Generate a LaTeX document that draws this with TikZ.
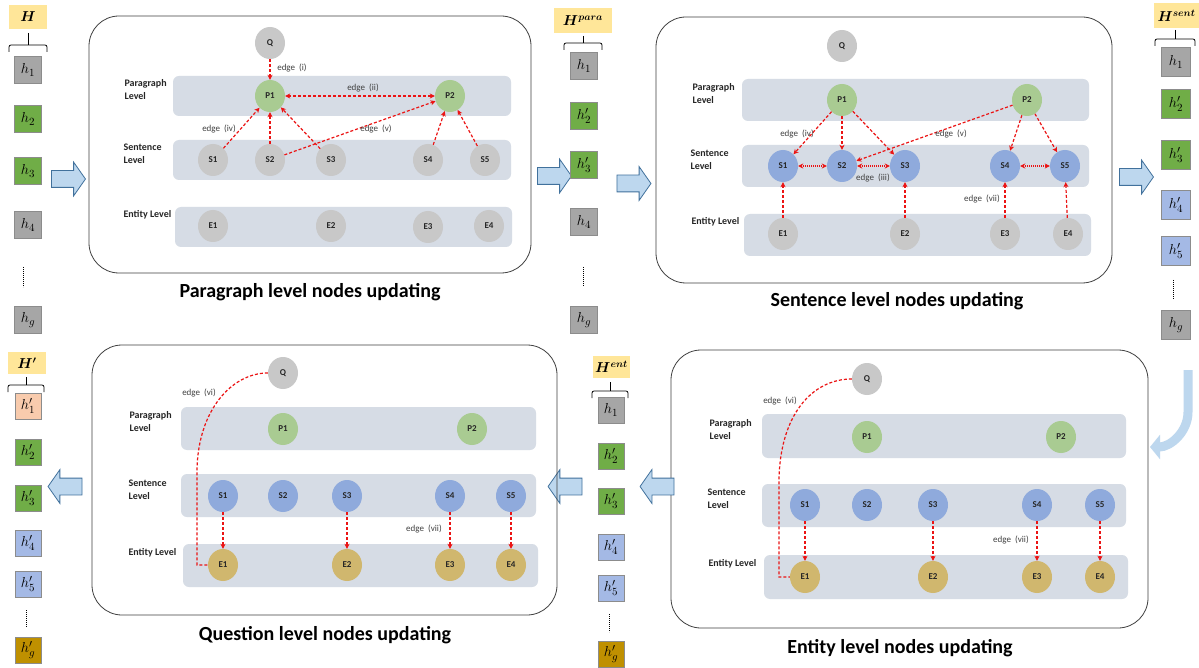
\documentclass[tikz,border=0pt]{standalone}
\usepackage[no-math]{fontspec}
\setmainfont{Carlito}
\usepackage{amsmath}
\usepackage{bm}
\usetikzlibrary{arrows.meta,shapes.geometric,shapes.arrows}

\definecolor{bandgray}{RGB}{214,220,229}
\definecolor{nodegray}{RGB}{200,200,200}
\definecolor{nodegreen}{RGB}{169,203,146}
\definecolor{nodeblue}{RGB}{143,170,220}
\definecolor{nodegold}{RGB}{208,183,110}
\definecolor{boxgray}{RGB}{166,166,166}
\definecolor{boxgreen}{RGB}{112,173,71}
\definecolor{boxblue}{RGB}{164,185,229}
\definecolor{boxpeach}{RGB}{248,203,173}
\definecolor{boxgold}{RGB}{191,144,0}
\definecolor{labelyellow}{RGB}{255,230,153}
\definecolor{arrowfill}{RGB}{189,215,238}
\definecolor{arrowline}{RGB}{65,113,156}
\definecolor{edgered}{RGB}{235,20,20}
\definecolor{textgray}{RGB}{64,64,64}

% brace under a column label: x1, x2, y of stem top, y of bar, y of hooks
\newcommand{\colbrace}[5]{%
  \draw[line width=0.8pt, rounded corners=2pt] (#1,#5) -- (#1,#4) -- (#2,#4) -- (#2,#5);
  \draw[line width=0.8pt] ({(#1+#2)/2},#3) -- ({(#1+#2)/2},#4);}

\begin{document}
\begin{tikzpicture}[x=1pt, y=-1pt,
    >={Stealth[length=5pt,width=5pt,inset=1.5pt]},
    gnode/.style={ellipse, minimum width=30pt, minimum height=32pt, inner sep=0pt,
      font=\fontsize{9}{9}\selectfont\bfseries, text=black!85},
    qnode/.style={gnode, fill=nodegray},
    pnode/.style={gnode, fill=nodegreen},
    snode/.style={gnode, fill=nodeblue},
    enode/.style={gnode, fill=nodegold},
    band/.style={fill=bandgray, rounded corners=6pt},
    panel/.style={draw=black!75, line width=0.8pt, rounded corners=30pt},
    level/.style={anchor=west, align=left, font=\fontsize{10}{13}\selectfont\bfseries, text=black!85},
    edgelab/.style={font=\fontsize{9}{9}\selectfont, text=textgray},
    redge/.style={draw=edgered, line width=1.2pt, dash pattern=on 3pt off 2pt, ->},
    rdot/.style={draw=edgered, line width=1.2pt, dash pattern=on 1pt off 1pt, <->},
    hbox/.style={draw=black!45, minimum width=27pt, minimum height=27pt, inner sep=0pt,
      font=\fontsize{15}{15}\selectfont},
    hlabel/.style={fill=labelyellow, inner sep=0pt, font=\fontsize{14}{14}\selectfont},
    vdots/.style={line width=1pt, dash pattern=on 0.8pt off 1.2pt},
    blockarrow/.style={single arrow, draw=arrowline, fill=arrowfill, line width=0.8pt,
      minimum height=34pt, minimum width=33pt, single arrow head extend=8.5pt,
      single arrow tip angle=110, inner xsep=0pt, inner ysep=8pt},
    title/.style={font=\fontsize{20}{20}\selectfont\bfseries}]

\fill[white] (0,0) rectangle (1199,668);
\useasboundingbox (0,0) rectangle (1199,668);

% ---------- column H ----------
\node[hlabel, minimum width=38pt, minimum height=24pt] (H) at (28,17) {$\bm{H}$};
\colbrace{9}{47}{33}{45}{52}
\foreach \y/\c/\t [count=\i] in {70/boxgray/h_1, 119/boxgreen/h_2, 171/boxgreen/h_3, 225/boxgray/h_4, 320/boxgray/h_g}
  \node[hbox, fill=\c] (H-\i) at (28,\y) {$\t$};
\draw[vdots] (23,267) -- (23,287);
\node[blockarrow] (arrA) at (65.5,179) {};

% ---------- paragraph level nodes updating ----------
\draw[panel] (89,16) rectangle (531,273);
\fill[band] (173,76) rectangle (511,116);
\fill[band] (173,140) rectangle (511,180);
\fill[band] (175,207) rectangle (512,247);
\node[level] at (121,90) {Paragraph\\Level};
\node[level] at (120,154) {Sentence\\Level};
\node[level] at (120,215) {Entity Level};
\node[qnode] (pQ) at (270,43) {Q};
\node[pnode] (pP1) at (270,96) {P1};
\node[pnode] (pP2) at (450,96) {P2};
\foreach \n/\x in {1/213,2/270,3/331,4/428,5/485}
  \node[gnode, fill=nodegray] (pS\n) at (\x,160) {S\n};
\foreach \n/\x/\y in {1/213/226,2/331/226,3/428/227,4/489/226}
  \node[gnode, fill=nodegray] (pE\n) at (\x,\y) {E\n};
\draw[redge] (pQ) -- (pP1);
\draw[redge, <->] (pP1) -- (pP2);
\draw[redge] (pS1) -- (pP1);
\draw[redge] (pS2) -- (pP1);
\draw[redge] (pS3) -- (pP1);
\draw[redge] (pS2) -- (pP2);
\draw[redge] (pS4) -- (pP2);
\draw[redge] (pS5) -- (pP2);
\node[edgelab] at (292,68) {edge~~(i)};
\node[edgelab] at (363,88) {edge~~(ii)};
\node[edgelab] at (219,129) {edge~~(iv)};
\node[edgelab] at (376,129) {edge~~(v)};
\node[title] at (310,292) {Paragraph level nodes updating};

\node[blockarrow] (arrB) at (551.5,176) {};

% ---------- column H^para ----------
\node[hlabel, minimum width=58pt, minimum height=25pt] (Hpara) at (583,20.5) {$\bm{H^{para}}$};
\colbrace{564}{602}{36}{43}{50}
\foreach \y/\c/\t [count=\i] in {66/boxgray/h_1, 116/boxgreen/h'_2, 165/boxgreen/h'_3, 222/boxgray/h_4, 320/boxgray/h_g}
  \node[hbox, fill=\c] (Hpara-\i) at (584,\y) {$\t$};
\draw[vdots] (583,267) -- (583,286);
\node[blockarrow] (arrC) at (631,183.5) {};

% ---------- sentence level nodes updating ----------
\draw[panel] (656,17) rectangle (1112,283);
\fill[band] (742,79) rectangle (1089,121);
\fill[band] (742,145) rectangle (1089,187);
\fill[band] (744,214) rectangle (1091,256);
\node[level] at (689,93.5) {Paragraph\\Level};
\node[level] at (687,159.5) {Sentence\\Level};
\node[level] at (688,222) {Entity Level};
\node[qnode] (sQ) at (842,46) {Q};
\node[pnode] (sP1) at (842,100) {P1};
\node[pnode] (sP2) at (1027,100) {P2};
\foreach \n/\x in {1/783,2/842,3/905,4/1005,5/1065}
  \node[snode] (sS\n) at (\x,166) {S\n};
\foreach \n/\x in {1/783,2/905,3/1005,4/1068}
  \node[gnode, fill=nodegray] (sE\n) at (\x,234) {E\n};
\draw[redge] (sP1) -- (sS1);
\draw[redge] (sP1) -- (sS2);
\draw[redge] (sP1) -- (sS3);
\draw[redge] (sP2) -- (sS2);
\draw[redge] (sP2) -- (sS4);
\draw[redge] (sP2) -- (sS5);
\draw[rdot] (sS1) -- (sS2);
\draw[rdot] (sS2) -- (sS3);
\draw[rdot] (sS4) -- (sS5);
\draw[redge] (sE1) -- (sS1);
\draw[redge] (sE2) -- (sS3);
\draw[redge] (sE3) -- (sS4);
\draw[redge] (sE4) -- (sS5);
\node[edgelab] at (797,134) {edge~~(iv)};
\node[edgelab] at (951,134) {edge~~(v)};
\node[edgelab] at (873,178) {edge~~(iii)};
\node[edgelab] at (982,199) {edge~~(vii)};
\node[title] at (897,301) {Sentence level nodes updating};

\node[blockarrow] (arrD) at (1133.5,177) {};

% ---------- column H^sent ----------
\node[hlabel, minimum width=45pt, minimum height=25pt] (Hsent) at (1176.5,15.5) {$\bm{H^{sent}}$};
\colbrace{1155}{1195}{30}{39}{46}
\foreach \y/\c/\t [count=\i] in {62/boxgray/h_1, 104/boxgreen/h'_2, 155/boxgreen/h'_3, 205/boxblue/h'_4, 251/boxblue/h'_5, 325/boxgray/h_g}
  \node[hbox, fill=\c, minimum size=29pt] (Hsent-\i) at (1176,\y) {$\t$};
\draw[vdots] (1173,280) -- (1173,299);

% bent arrow down to the entity panel
\coordinate (bendTop) at (1188,370);
\coordinate (bendTip) at (1150,447);
\draw[line width=9pt, arrowfill, -{Triangle[length=10pt,width=24pt]}]
  (bendTop) -- (1188,412) to[out=270, in=0] (bendTip);

% ---------- entity level nodes updating ----------
\draw[panel] (671,350) rectangle (1148,628);
\fill[band] (762,414) rectangle (1126,458);
\fill[band] (762,484) rectangle (1126,527);
\fill[band] (764,555) rectangle (1128,599);
\node[level] at (706,429.5) {Paragraph\\Level};
\node[level] at (704,499) {Sentence\\Level};
\node[level] at (705,564) {Entity Level};
\node[qnode] (eQ) at (867,379) {Q};
\node[pnode] (eP1) at (867,437) {P1};
\node[pnode] (eP2) at (1061,437) {P2};
\foreach \n/\x in {1/805,2/867,3/933,4/1037,5/1100}
  \node[snode] (eS\n) at (\x,505) {S\n};
\foreach \n/\x in {1/805,2/933,3/1037,4/1100}
  \node[enode] (eE\n) at (\x,577) {E\n};
\draw[redge] (eS1) -- (eE1);
\draw[redge] (eS3) -- (eE2);
\draw[redge] (eS4) -- (eE3);
\draw[redge] (eS5) -- (eE4);
\draw[redge, -] (eQ.west) .. controls (812,379) and (780,415) .. (779,480) |- (eE1.west);
\node[edgelab] at (780,401) {edge~~(vi)};
\node[edgelab] at (1011,540) {edge~~(vii)};
\node[title] at (900,648) {Entity level nodes updating};

\node[blockarrow, shape border rotate=180] (arrE) at (660,486.5) {};

% ---------- column H^ent ----------
\node[hlabel, minimum width=37pt, minimum height=22pt] (Hent) at (611.5,367) {$\bm{H^{ent}}$};
\colbrace{592}{628}{382}{391}{398}
\foreach \y/\c/\t [count=\i] in {410/boxgray/h_1, 456/boxgreen/h'_2, 501/boxgreen/h'_3, 547/boxblue/h'_4, 588/boxblue/h'_5, 654/boxgold/h'_g}
  \node[hbox, fill=\c, minimum size=26pt] (Hent-\i) at (611,\y) {$\t$};
\draw[vdots] (609,614) -- (609,632);
\node[blockarrow, shape border rotate=180] (arrF) at (568,486.5) {};

% ---------- question level nodes updating ----------
\draw[panel] (92,345) rectangle (557,615);
\fill[band] (181,407) rectangle (536,450);
\fill[band] (181,474) rectangle (536,517);
\fill[band] (183,544) rectangle (538,587);
\node[level] at (126,422) {Paragraph\\Level};
\node[level] at (125,489.5) {Sentence\\Level};
\node[level] at (125,553) {Entity Level};
\node[qnode] (qQ) at (283,373) {Q};
\node[pnode] (qP1) at (283,429) {P1};
\node[pnode] (qP2) at (472,429) {P2};
\foreach \n/\x in {1/223,2/283,3/347,4/450,5/511}
  \node[snode] (qS\n) at (\x,496) {S\n};
\foreach \n/\x in {1/223,2/347,3/450,4/511}
  \node[enode] (qE\n) at (\x,565) {E\n};
\draw[redge] (qS1) -- (qE1);
\draw[redge] (qS3) -- (qE2);
\draw[redge] (qS4) -- (qE3);
\draw[redge] (qS5) -- (qE4);
\draw[redge, -] (qQ.west) .. controls (232,373) and (198,410) .. (197,470) |- (qE1.west);
\node[edgelab] at (199,393) {edge~~(vi)};
\node[edgelab] at (424,529) {edge~~(vii)};
\node[title] at (325,635) {Question level nodes updating};

\node[blockarrow, shape border rotate=180] (arrG) at (68,486.5) {};

% ---------- column H' ----------
\node[hlabel, minimum width=38pt, minimum height=22pt] (Hq) at (27,363) {$\bm{H'}$};
\colbrace{8}{44}{377}{385}{392}
\foreach \y/\c/\t [count=\i] in {406/boxpeach/h'_1, 452/boxgreen/h'_2, 498/boxgreen/h'_3, 543/boxblue/h'_4, 584/boxblue/h'_5, 650/boxgold/h'_g}
  \node[hbox, fill=\c, minimum size=26pt] (Hq-\i) at (28,\y) {$\t$};
\draw[vdots] (26,610) -- (26,627);
\end{tikzpicture}
\end{document}
